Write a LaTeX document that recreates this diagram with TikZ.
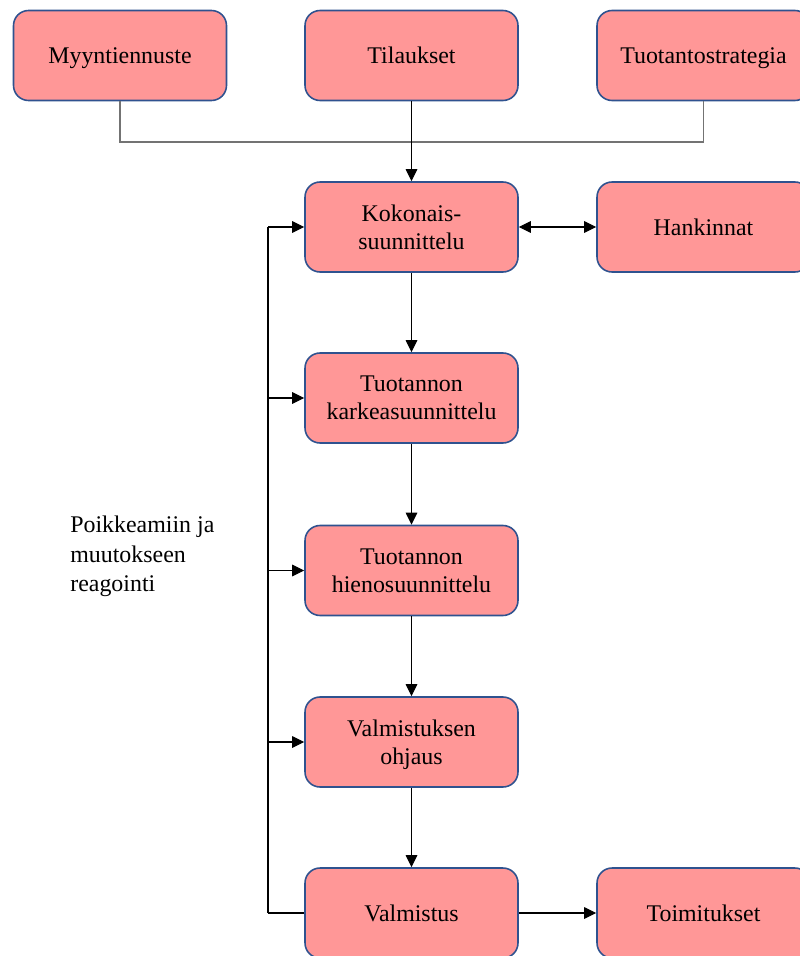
\documentclass[tikz,border=0pt]{standalone}
\usepackage{fontspec}
\setmainfont{LiberationSerif}[Extension=.ttf, UprightFont=*-Regular, BoldFont=*-Bold]
\usetikzlibrary{arrows.meta}
\definecolor{boxfill}{HTML}{FF9797}
\definecolor{boxline}{HTML}{2F528F}
\begin{document}
\begin{tikzpicture}[x=0.02cm, y=-0.02cm,
  block/.style={draw=boxline, fill=boxfill, line width=0.9pt, rounded corners=0.3cm,
    minimum width=4.26cm, minimum height=1.8cm, align=center, inner sep=2pt,
    text depth=0pt, font=\fontsize{13.6}{15.9}\selectfont},
  tip/.tip={Triangle[length=0.24cm, width=0.23cm]},
  arr/.style={draw=black, line width=0.6pt, -tip},
  merge/.style={draw=black!55, line width=0.8pt},
  feedback/.style={draw=black, line width=1pt}]
  \useasboundingbox (0,0) rectangle (800,956);
  % upper row: inputs to the overall plan
  \node[block] (m) at (120,55.5) {Myyntiennuste};
  \node[block] (t) at (411.5,55.5) {Tilaukset};
  \node[block] (s) at (703.5,55.5) {Tuotantostrategia};
  % planning chain
  \node[block] (k) at (411.5,227) {Kokonais-\\suunnittelu};
  \node[block] (h) at (703.5,227) {Hankinnat};
  \node[block] (r) at (411.5,398) {Tuotannon\\karkeasuunnittelu};
  \node[block] (f) at (411.5,570.5) {Tuotannon\\hienosuunnittelu};
  \node[block] (o) at (411.5,742) {Valmistuksen\\ohjaus};
  \node[block] (v) at (411.5,913) {Valmistus};
  \node[block] (d) at (703.5,913) {Toimitukset};
  % side label
  \node[anchor=north west, align=left, inner sep=0pt,
    font=\fontsize{13.6}{16.7}\selectfont] (lbl) at (70,516)
    {Poikkeamiin ja\\muutokseen\\reagointi};
  % joining line of the inputs
  \coordinate (jr) at (703.5,142);
  \draw[merge] (m.south) |- (jr) -- (s.south);
  \draw[arr] (t.south) -- (k.north);
  % procurement link
  \draw[arr, tip-tip] (k.east) -- (h.west);
  % main flow
  \draw[arr] (k.south) -- (r.north);
  \draw[arr] (r.south) -- (f.north);
  \draw[arr] (f.south) -- (o.north);
  \draw[arr] (o.south) -- (v.north);
  \draw[arr] (v.east) -- (d.west);
  % feedback loop
  \coordinate (fb) at (268,913);
  \draw[feedback] (v.west) -- (fb);
  \draw[feedback] (fb) -- (fb |- k.west);
  \draw[arr] (fb |- k.west) -- (k.west);
  \draw[arr] (fb |- r.west) -- (r.west);
  \draw[arr] (fb |- f.west) -- (f.west);
  \draw[arr] (fb |- o.west) -- (o.west);
\end{tikzpicture}
\end{document}
